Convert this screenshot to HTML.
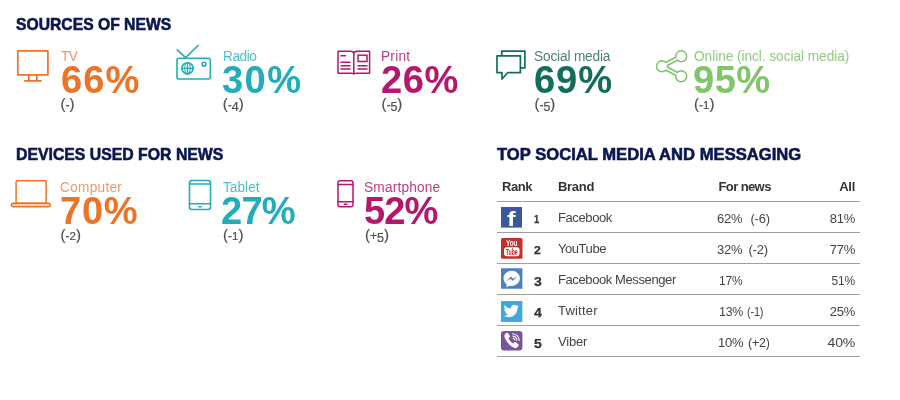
<!DOCTYPE html>
<html><head><meta charset="utf-8">
<style>
*{margin:0;padding:0;box-sizing:border-box}
html,body{width:900px;height:400px;background:#fff;overflow:hidden}
body{position:relative;font-family:"Liberation Sans",sans-serif;color:#444}
.h{position:absolute;font-weight:bold;color:#0b1650;font-size:17px;line-height:20px;white-space:nowrap;letter-spacing:0;-webkit-text-stroke:0.6px #0b1650;transform-origin:0 50%}
.it{position:absolute;white-space:nowrap}
.it .l{position:absolute;left:0;top:0.3px;transform:scaleX(.977);transform-origin:0 50%;font-size:14px;line-height:14px}
.it .n{position:absolute;left:-1.5px;top:10px;font-size:37.5px;line-height:40px;font-weight:bold;transform:scale(1.017,1.02);transform-origin:0 0}
.it .d{position:absolute;left:-1.5px;top:45.9px;font-size:15px;line-height:18px;color:#505050;-webkit-text-stroke:0.2px #505050}
.it .d i{font-style:normal;font-size:12px}
.it .d i.x{font-size:11.5px}
.it .d i.y{font-size:12.5px;position:relative;top:1.8px}
svg{position:absolute;overflow:visible}
.or{color:#ec7429}.te{color:#22adb9}.ma{color:#b6176e}.dg{color:#136d5b}.lg{color:#80c46c}
.or .l{color:#ee9a66}.te .l{color:#4fc0c6}.ma .l{color:#b9407f}.dg .l{color:#4a8372}.lg .l{color:#90cb80}
.ln{position:absolute;left:497px;width:363px;height:1px;background:#a0a0a0}
.t{position:absolute;font-size:13px;line-height:16px;white-space:nowrap;color:#444;letter-spacing:-0.2px}
.b{font-weight:bold;color:#333}
.rk{-webkit-text-stroke:0.25px #333;font-size:11px;transform:scaleX(1.1);transform-origin:0 50%}
.r{text-align:right;width:60px}
.sx{display:inline-block;transform-origin:0 50%}
.ic{position:absolute;left:501px;width:21px;height:21px}
</style></head><body>
<div class="h" style="left:16px;top:14.5px;transform:scaleX(.923)">SOURCES OF NEWS</div>
<div class="h" style="left:16px;top:145px;transform:scaleX(.93)">DEVICES USED FOR NEWS</div>
<div class="h" style="left:496.500px;top:145px;transform:scaleX(.977)">TOP SOCIAL MEDIA AND MESSAGING</div>

<div class="it or" style="left:62px;top:49px"><div class="l" style="left:-1.3px;letter-spacing:-0.74px">TV</div><div class="n" style="left:-1.5px;letter-spacing:1.03px">66%</div><div class="d">(<i>-</i>)</div></div>
<div class="it te" style="left:222px;top:49px"><div class="l" style="left:0.5px;letter-spacing:-0.46px">Radio</div><div class="n" style="left:-0.4px;letter-spacing:1.37px">30%</div><div class="d" style="left:0.7px">(<i>-</i><i class="y">4</i>)</div></div>
<div class="it ma" style="left:382px;top:49px"><div class="l" style="left:-1.0px;letter-spacing:0.24px">Print</div><div class="n" style="left:-1.5px;letter-spacing:0.59px">26%</div><div class="d" style="left:-0.6px">(<i>-</i><i class="y">5</i>)</div></div>
<div class="it dg" style="left:535px;top:49px"><div class="l" style="left:-1.2px;letter-spacing:-0.17px">Social media</div><div class="n" style="left:-1.0px;letter-spacing:0.88px">69%</div><div class="d" style="left:-0.6px">(<i>-</i><i class="y">5</i>)</div></div>
<div class="it lg" style="left:695px;top:49px"><div class="l" style="left:-1.0px;letter-spacing:-0.05px">Online (incl. social media)</div><div class="n" style="left:-2.3px;letter-spacing:0.45px">95%</div><div class="d" style="left:-0.9px">(<i>-</i><i class="x">1</i>)</div></div>

<div class="it or" style="left:62px;top:180px"><div class="l" style="left:-2.0px;letter-spacing:0.27px">Computer</div><div class="n" style="left:-2.5px;letter-spacing:0.69px">70%</div><div class="d">(<i>-</i><i class="x">2</i>)</div></div>
<div class="it te" style="left:222px;top:180px"><div class="l" style="left:1.3px;letter-spacing:0.02px">Tablet</div><div class="n" style="left:-0.8px;letter-spacing:-0.82px">27%</div><div class="d" style="left:1.0px">(<i>-</i><i class="x">1</i>)</div></div>
<div class="it ma" style="left:365px;top:180px"><div class="l" style="left:-1.0px;letter-spacing:0.19px">Smartphone</div><div class="n" style="left:-1.5px;letter-spacing:-0.96px">52%</div><div class="d" style="left:0.1px">(<i>+</i><i class="y">5</i>)</div></div>

<!-- icons -->
<svg style="left:0;top:0" width="900" height="400" viewBox="0 0 900 400" fill="none" stroke-linejoin="round" stroke-linecap="round">
<g stroke="#ec7429" stroke-width="1.7">
<rect x="17.8" y="50.9" width="30.1" height="24"/><path d="M28.8 75.500v5M36.800 75.500v5M24.800 80.800h16.200"/>
<rect x="16.100" y="180.700" width="30.100" height="22.600" rx="1" stroke-width="1.500"/><rect x="11.300" y="203.300" width="39" height="3.400" rx="1.700" stroke-width="1.500" fill="#f6cdb2"/>
</g>
<g stroke="#22adb9" stroke-width="1.600">
<rect x="177" y="58.300" width="33.300" height="20.700" rx="2"/><path d="M177.300 49.800l8.300 7.800L198.300 45.300"/>
<circle cx="187.500" cy="68.300" r="5.600"/><path d="M182 68.300h11M187.500 62.800v11" stroke-width="1.300"/><ellipse cx="187.500" cy="68.300" rx="2.700" ry="5.500" stroke-width="1.100"/>
<circle cx="204" cy="64.200" r="1.900"/>
<rect x="189.500" y="180.500" width="21" height="29" rx="2.500"/><path d="M189.500 184h21M189.500 203.800h21"/><path d="M198.800 206.800h2.400" stroke-width="1.500"/>
</g>
<g stroke="#b6176e" stroke-width="1.500">
<path d="M338 51.300h12.500q3 0 3.300 2.200q.3-2.200 3.300-2.200h12.500v22h-12.500q-3 0-3.300.8q-.3-.8-3.300-.8H338zM353.800 53.500v20"/>
<path d="M341 55.700h4.500M341 62.300h9M341 65.700h9M341 69.100h9M358 65.700h9M358 69.100h9"/><rect x="358" y="55.200" width="9" height="6.300" stroke-linejoin="miter"/>
<rect x="338" y="180.700" width="15" height="26" rx="2"/><path d="M338 184.400h15M338 201.700h15"/><path d="M344.200 204.300h2.600" stroke-width="1.500"/>
</g>
<g stroke="#136d5b" stroke-width="1.700" stroke-linejoin="miter">
<path d="M501.800 55V51.200h23.100v16.700H521"/><path d="M497 55.800h23.400v16.900H507.700L502 79v-6.300H497z" stroke-linejoin="round"/>
</g>
<g stroke="#80c46c" stroke-linecap="butt">
<path d="M681.200 56.300L662 66.300L681.200 76.300" stroke-width="5"/>
<circle cx="681.200" cy="56.300" r="5.400" stroke-width="1.700" fill="#fff"/><circle cx="662" cy="66.300" r="5.400" stroke-width="1.700" fill="#fff"/><circle cx="681.200" cy="76.300" r="5.400" stroke-width="1.700" fill="#fff"/>
<path d="M681.200 56.300L662 66.300L681.200 76.300" stroke="#fff" stroke-width="1.700"/>
<circle cx="681.200" cy="56.300" r="4.550" stroke="none" fill="#fff"/><circle cx="662" cy="66.300" r="4.550" stroke="none" fill="#fff"/><circle cx="681.200" cy="76.300" r="4.550" stroke="none" fill="#fff"/>
</g>
</svg>

<!-- table -->
<div class="t b" style="left:502px;top:179px;letter-spacing:-.45px">Rank</div>
<div class="t b" style="left:558px;top:179px;letter-spacing:-.3px">Brand</div>
<div class="t b" style="left:718.500px;top:179px;letter-spacing:-.6px">For news</div>
<div class="t b r" style="left:795px;top:179px;letter-spacing:-.3px">All</div>
<div class="ln" style="top:201px"></div>
<div class="ln" style="top:232px"></div>
<div class="ln" style="top:263px"></div>
<div class="ln" style="top:294px"></div>
<div class="ln" style="top:325px"></div>
<div class="ln" style="top:356px"></div>
<div class="t b rk" style="left:534px;top:210.700px;transform:scaleX(.85)">1</div>
<div class="t" style="left:558px;top:210.2px;letter-spacing:-0.40px">Facebook</div>
<div class="t" style="left:717px;top:210.8px">62%<span style="margin-left:8px">(-6)</span></div>
<div class="t r" style="left:795.200px;top:210.8px">81%</div>
<div class="t b rk" style="left:534px;top:241.700px">2</div>
<div class="t" style="left:558px;top:241.2px;letter-spacing:-0.45px">YouTube</div>
<div class="t" style="left:717px;top:241.8px">32%<span style="margin-left:6px">(-2)</span></div>
<div class="t r" style="left:795.200px;top:241.8px">77%</div>
<div class="t b rk" style="left:533.500px;top:274.2px;font-size:12.5px;transform:scaleX(1.12)">3</div>
<div class="t" style="left:558px;top:272.2px;letter-spacing:-0.40px">Facebook Messenger</div>
<div class="t" style="left:719px;top:272.8px;transform:scaleX(.92);transform-origin:0 50%">17%</div>
<div class="t r" style="left:795.200px;top:272.8px;transform:scaleX(.92);transform-origin:100% 50%">51%</div>
<div class="t b rk" style="left:533.500px;top:305.2px;font-size:12.5px;transform:scaleX(1.12)">4</div>
<div class="t" style="left:558px;top:303.2px;letter-spacing:0.20px">Twitter</div>
<div class="t" style="left:719px;top:303.8px"><span class="sx" style="transform:scaleX(.95);margin-right:-1.2px">13%</span><span class="sx" style="margin-left:3.4px;transform:scaleX(.84)">(-1)</span></div>
<div class="t r" style="left:795.200px;top:303.8px">25%</div>
<div class="t b rk" style="left:533.500px;top:336.2px;font-size:12.5px;transform:scaleX(1.12)">5</div>
<div class="t" style="left:558px;top:334.2px;letter-spacing:-0.20px">Viber</div>
<div class="t" style="left:718px;top:334.8px">10%<span class="sx" style="margin-left:4.500px;transform:scaleX(.955)">(+2)</span></div>
<div class="t r" style="left:795.200px;top:334.8px;transform:scaleX(1.08);transform-origin:100% 50%">40%</div>

<!-- brand icons -->
<svg class="ic" style="top:207.300px;left:501.300px" viewBox="0 0 21 21"><rect width="21" height="20.600" fill="#3b5998"/><text transform="translate(6,18.800) scale(1.300,1)" font-family="Liberation Sans,sans-serif" font-weight="bold" font-size="20" fill="#fff">f</text></svg>
<svg class="ic" style="top:237.600px;left:501.300px;width:21.500px" viewBox="0 0 21.500 21"><rect width="21.500" height="20.800" rx="1.600" fill="#c4302b"/><text x="10.700" y="8.400" text-anchor="middle" font-family="Liberation Sans,sans-serif" font-weight="bold" font-size="9" fill="#fff" textLength="11.500" lengthAdjust="spacingAndGlyphs">You</text><rect x="3" y="9.300" width="15.500" height="9" rx="2.800" fill="#fff"/><text x="10.750" y="16.700" text-anchor="middle" font-family="Liberation Sans,sans-serif" font-weight="bold" font-size="8.500" fill="#c4302b" textLength="12" lengthAdjust="spacingAndGlyphs">Tube</text></svg>
<svg class="ic" style="top:268px;left:501.200px;width:21.400px" viewBox="0 0 21.400 20.500"><rect width="21.400" height="20.500" fill="#4a80c4"/><path d="M10.700 2.500c-4.600 0-8.200 3.400-8.200 7.600 0 2.400 1.200 4.500 3 5.900v2.900l2.800-1.500c.8.200 1.600.3 2.400.3 4.600 0 8.200-3.400 8.200-7.600s-3.600-7.600-8.200-7.600z" fill="#fff"/><path d="M5.600 12.800l4.300-4.600 2.200 2.200 3.900-2.200-4.300 4.600-2.200-2.200z" fill="#4a80c4"/></svg>
<svg class="ic" style="top:300.500px;left:501.200px;width:21.400px" viewBox="0 0 21 20.500"><rect width="21" height="20.500" fill="#3fa9de"/><path transform="translate(-1.200,-1.800) scale(1.080)" d="M17.500 6.300c-.5.200-1.100.4-1.700.5.600-.4 1.100-.9 1.300-1.600-.6.300-1.200.6-1.900.7-.5-.6-1.300-.9-2.100-.9-1.600 0-2.900 1.300-2.900 2.900 0 .2 0 .400.100.600-2.400-.1-4.500-1.300-5.900-3-.3.400-.4.900-.4 1.500 0 1 .5 1.900 1.300 2.400-.5 0-.9-.1-1.300-.4 0 1.400 1 2.600 2.300 2.800-.4.100-.9.100-1.300 0 .4 1.100 1.400 2 2.700 2-1.200.9-2.700 1.400-4.200 1.200 1.300.8 2.800 1.300 4.400 1.300 5.300 0 8.200-4.400 8.200-8.200v-.4c.600-.4 1.100-.9 1.400-1.400z" fill="#fff"/></svg>
<svg class="ic" style="top:330.500px;left:501.200px;width:21.400px;height:19.500px" viewBox="0 0 21.400 19.500"><rect width="21.400" height="19.500" rx="3.200" fill="#7c529e"/><g transform="translate(-2.400,-2.800) scale(1.220)"><path d="M6.300 3.800c.5-.3 1.100-.1 1.400.3l1.400 2c.3.500.2 1.100-.2 1.400l-.8.700c.6 1.500 2.200 3.400 3.900 4.300l.8-.8c.4-.4 1-.4 1.400-.1l1.900 1.500c.4.400.5 1 .2 1.400l-.9 1.200c-.5.600-1.300.8-2 .5-4.300-1.700-7.300-5-8.600-9.200-.2-.7 0-1.500.6-2z" fill="#fff"/><path d="M11.500 4.500c3 .2 5.200 2.400 5.300 5.500M11.700 6.500c1.900.2 3.100 1.400 3.200 3.300M11.900 8.300c.8.100 1.300.6 1.400 1.400" stroke="#fff" stroke-width="0.9" fill="none" stroke-linecap="round"/></g></svg>
</body></html>
